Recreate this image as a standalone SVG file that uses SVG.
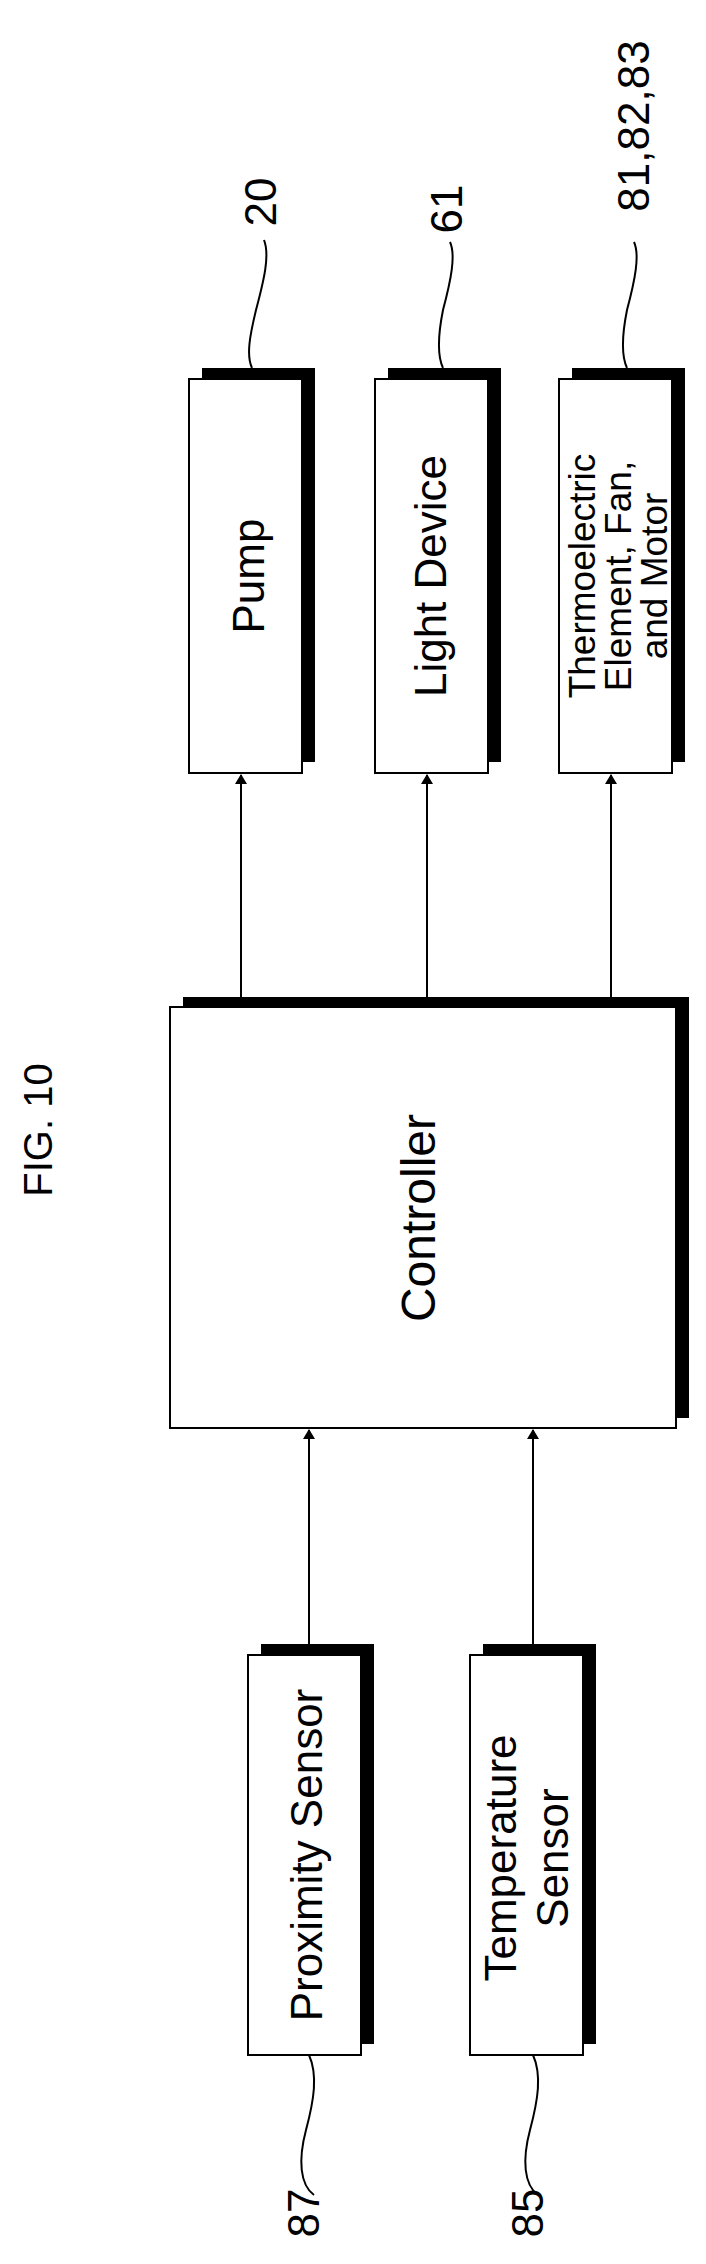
<svg xmlns="http://www.w3.org/2000/svg" width="706" height="2264" viewBox="0 0 706 2264">
<style>
text{font-family:"Liberation Sans",Arial,sans-serif;fill:#000;dominant-baseline:central;text-anchor:middle}
.box{fill:#fff;stroke:#000;stroke-width:2}
.sh{fill:#000}
.ln{stroke:#000;stroke-width:2;fill:none}
.t{font-size:44px}
.lb{font-size:44px}
</style>
<defs><marker id="ar" markerWidth="10" markerHeight="12" refX="9" refY="6" orient="auto" markerUnits="userSpaceOnUse"><path d="M0,0 L10,6 L0,12 z" fill="#000"/></marker></defs>
<text x="38" y="1130" font-size="40" transform="rotate(-90 38 1130)">FIG. 10</text>
<g id="pump"><rect class="sh" x="202" y="368" width="113" height="394"/><rect class="box" x="189" y="379" width="113" height="394"/><text class="t" x="248" y="576" transform="rotate(-90 248 576)">Pump</text></g>
<g id="light"><rect class="sh" x="388" y="368" width="113" height="394"/><rect class="box" x="375" y="379" width="113" height="394"/><text class="t" x="430" y="576" transform="rotate(-90 430 576)">Light Device</text></g>
<g id="thermo"><rect class="sh" x="572" y="368" width="113" height="394"/><rect class="box" x="559" y="379" width="113" height="394"/><text font-size="37" transform="translate(618 576) rotate(-90)"><tspan x="0" y="-36">Thermoelectric</tspan><tspan x="0" y="0">Element, Fan,</tspan><tspan x="0" y="36">and Motor</tspan></text></g>
<g id="controller"><rect class="sh" x="183" y="997" width="506" height="421"/><rect class="box" x="170" y="1007" width="506" height="421"/><text font-size="48" x="418" y="1218" transform="rotate(-90 418 1218)">Controller</text></g>
<g id="proximity"><rect class="sh" x="261" y="1644" width="113" height="400"/><rect class="box" x="248" y="1655" width="113" height="400"/><text class="t" x="306" y="1855" transform="rotate(-90 306 1855)">Proximity Sensor</text></g>
<g id="temperature"><rect class="sh" x="483" y="1644" width="113" height="400"/><rect class="box" x="470" y="1655" width="113" height="400"/><text font-size="44" transform="translate(526 1858) rotate(-90)"><tspan x="0" y="-26">Temperature</tspan><tspan x="0" y="26">Sensor</tspan></text></g>
<g id="connectors">
<line class="ln" x1="241" y1="1007" x2="241" y2="775" marker-end="url(#ar)"/>
<line class="ln" x1="427" y1="1007" x2="427" y2="775" marker-end="url(#ar)"/>
<line class="ln" x1="611" y1="1007" x2="611" y2="775" marker-end="url(#ar)"/>
<line class="ln" x1="309" y1="1644" x2="309" y2="1430" marker-end="url(#ar)"/>
<line class="ln" x1="533" y1="1644" x2="533" y2="1430" marker-end="url(#ar)"/>
<path class="ln" d="M309,2055 C318,2075 314,2100 306,2130 C298,2160 300,2185 314,2195"/>
<path class="ln" d="M533,2055 C542,2075 538,2100 530,2130 C522,2160 524,2185 538,2195"/>
<path class="ln" d="M252,368 C246,355 250,335 256,310 C264,280 270,255 264,240"/>
<path class="ln" d="M443,368 C437,355 438,335 443,310 C451,280 456,255 450,242"/>
<path class="ln" d="M627,368 C621,355 622,335 627,310 C635,280 640,255 634,242"/>
</g>
<g id="labels">
<text class="lb" x="303" y="2213" transform="rotate(-90 303 2213)">87</text>
<text class="lb" x="527" y="2213" transform="rotate(-90 527 2213)">85</text>
<text class="lb" x="260" y="202" transform="rotate(-90 260 202)">20</text>
<text class="lb" x="446" y="209" transform="rotate(-90 446 209)">61</text>
<text class="lb" x="633" y="126" transform="rotate(-90 633 126)">81,82,83</text>
</g>
</svg>
